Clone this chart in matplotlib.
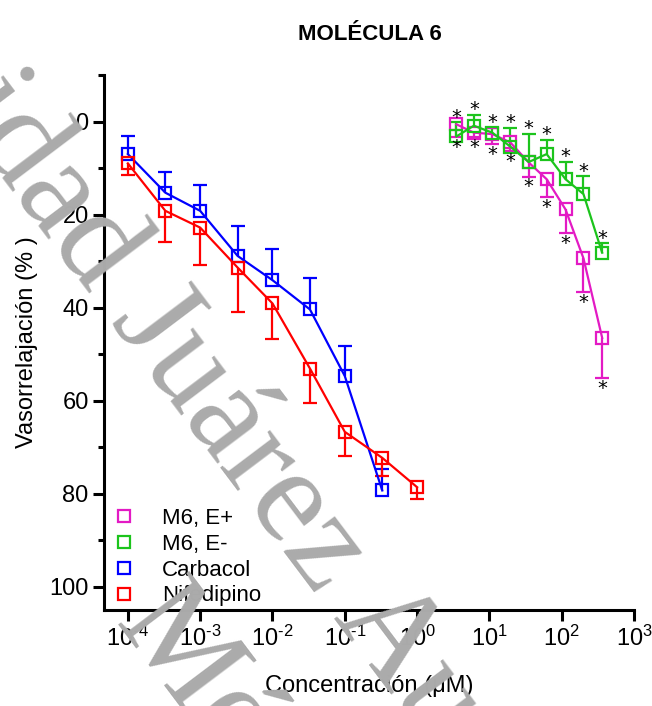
import numpy as np
import matplotlib
matplotlib.use('Agg')
import matplotlib.pyplot as plt
from matplotlib.ticker import LogLocator, NullLocator, MultipleLocator, FuncFormatter

FONT = 'Liberation Sans'
plt.rcParams['font.family'] = [FONT, 'DejaVu Sans']
plt.rcParams['mathtext.fontset'] = 'custom'
plt.rcParams['mathtext.rm'] = FONT
plt.rcParams['mathtext.it'] = FONT
plt.rcParams['mathtext.default'] = 'regular'

# ---- data ----
conc_ref = [1e-4, 3.3e-4, 1e-3, 3.3e-3, 1e-2, 3.3e-2, 1e-1, 3.3e-1, 1.0]
carbacol = [7.0, 15.3, 19.2, 28.9, 34.1, 40.4, 54.7, 79.3]
carbacol_err = [3.9, 4.5, 5.5, 6.4, 6.6, 6.8, 6.4, 4.7]      # drawn upward
nifedipino = [9.0, 19.2, 22.8, 31.4, 39.1, 53.1, 66.7, 72.3, 78.6]
nifedipino_err = [2.4, 6.8, 8.1, 9.6, 7.7, 7.5, 5.1, 3.9, 2.5]  # drawn downward

conc_m6 = [3.5, 6.1, 11, 19.5, 35, 62, 113, 200, 363]
m6_ep = [0.6, 2.4, 2.7, 4.5, 8.8, 12.4, 18.9, 29.4, 46.5]
m6_ep_err = [2.8, 1.0, 2.2, 1.9, 3.1, 3.9, 5.1, 7.3, 8.7]      # downward
m6_em = [3.2, 0.9, 2.4, 5.4, 8.7, 7.0, 12.4, 15.6, 28.2]
m6_em_err = [3.0, 2.3, 1.1, 4.1, 6.1, 3.0, 3.8, 3.8, 2.0]      # upward

C_EP = '#E31AC4'
C_EM = '#1CC41C'
C_CB = '#0000FF'
C_NF = '#FF0000'
FS = 16

W, H = 652, 706
fig = plt.figure(figsize=(W / 100, H / 100), dpi=100)
ax = fig.add_axes([104 / W, 1 - 610 / H, 530 / W, 535 / H])

# ---- watermark (gray serif, diagonal) ----
WM_SIZE = 97
WM_ANG = 53
wm = dict(fontsize=WM_SIZE, color='#ABABAB', family='Liberation Serif',
          rotation=-WM_ANG, rotation_mode='anchor', ha='left', va='baseline', zorder=0)
renderer = fig.canvas.get_renderer()


def text_width(s):
    t = fig.text(0, 0, s, fontsize=WM_SIZE, family='Liberation Serif')
    w = t.get_window_extent(renderer).width
    t.remove()
    return w


em = WM_SIZE * 100 / 72
d = np.array([np.cos(np.radians(WM_ANG)), np.sin(np.radians(WM_ANG))])
u = np.array([d[1], -d[0]])
# baseline start of "J" and of "M" (pixels from the top-left)
bJ = np.array([160, 315]) - 0.19 * em * d - 0.33 * em * u
bM = np.array([185, 645]) - 0.445 * em * d - 0.33 * em * u
pre = text_width('Universidad J') - text_width('J')
start = bJ - pre * d
fig.text(start[0] / W, 1 - start[1] / H, 'Universidad Juárez Autónoma de Tabasco', **wm)
fig.text(bM[0] / W, 1 - bM[1] / H, 'México', **wm)


def series(x, y, err, color, label, up):
    x = np.array(x)
    y = np.array(y)
    e = np.array(err)
    end = y - e if up else y + e
    ax.vlines(x, y, end, color=color, lw=1.6, zorder=3)
    ax.plot(x, end, ls='none', marker='_', ms=10, mew=1.6, color=color, zorder=3)
    ax.plot(x, y, color=color, lw=1.6, marker='s', ms=9, mfc='none', mew=1.6,
            label=label, zorder=4)


series(conc_m6, m6_ep, m6_ep_err, C_EP, 'M6, E+', up=False)
series(conc_m6, m6_em, m6_em_err, C_EM, 'M6, E-', up=True)
series(conc_ref[:8], carbacol, carbacol_err, C_CB, 'Carbacol', up=True)
series(conc_ref, nifedipino, nifedipino_err, C_NF, 'Nifedipino', up=False)

# significance stars
top = np.minimum(np.array(m6_em) - np.array(m6_em_err), np.array(m6_ep))
bot = np.maximum(np.array(m6_ep) + np.array(m6_ep_err), np.array(m6_em))
for xi, t, b in zip(conc_m6, top, bot):
    ax.annotate('*', (xi, t), xytext=(0, -3), textcoords='offset points',
                ha='center', va='bottom', fontsize=14, family='DejaVu Sans', zorder=5)
    ax.annotate('*', (xi, b), xytext=(0, -14), textcoords='offset points',
                ha='center', va='bottom', fontsize=14, family='DejaVu Sans', zorder=5)

ax.set_xscale('log')
ax.set_xlim(10 ** -4.33, 1e3)
ax.xaxis.set_major_locator(LogLocator(base=10, numticks=20))
ax.xaxis.set_minor_locator(NullLocator())


def pow10(v, pos):
    e = int(round(np.log10(v)))
    s = str(abs(e))
    if e < 0:
        s = '\u2010' + s
    return '10$^{' + s + '}$'


ax.xaxis.set_major_formatter(FuncFormatter(pow10))
ax.set_yticks([0, 20, 40, 60, 80, 100])
ax.yaxis.set_minor_locator(MultipleLocator(20, offset=10))
ax.set_ylim(105, -10)

for s in ['top', 'right']:
    ax.spines[s].set_visible(False)
for s in ['left', 'bottom']:
    ax.spines[s].set_linewidth(2.2)
ax.patch.set_alpha(0)

ax.tick_params(axis='both', which='major', labelsize=FS + 1, width=2.2, length=8, pad=3)
ax.tick_params(axis='y', which='minor', width=2.2, length=4)

ax.set_xlabel('Concentración (μM)', fontsize=FS + 1, labelpad=18)
ax.set_ylabel('Vasorrelajación (% )', fontsize=FS + 1, labelpad=8)
fig.text(370 / W, 1 - 40 / H, 'MOLÉCULA 6', fontsize=FS, fontweight='bold',
         ha='center', va='baseline')

ax.legend(loc='lower left', bbox_to_anchor=(0.0, -0.01), frameon=False, fontsize=FS,
          handlelength=1.0, handletextpad=1.2, labelspacing=0.22, borderaxespad=0,
          numpoints=1)
leg = ax.get_legend()
for h in leg.legend_handles:
    h.set_linestyle('none')

fig.savefig('out.png', dpi=100)
